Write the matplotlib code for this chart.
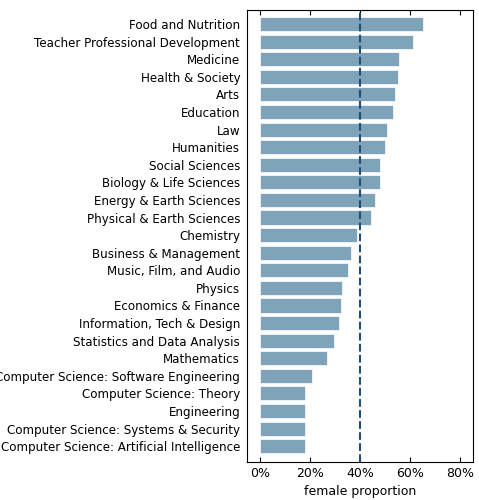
import matplotlib
matplotlib.use("Agg")
import matplotlib.pyplot as plt
from matplotlib.ticker import PercentFormatter

fields = [
    "Food and Nutrition", "Teacher Professional Development", "Medicine",
    "Health & Society", "Arts", "Education", "Law", "Humanities",
    "Social Sciences", "Biology & Life Sciences", "Energy & Earth Sciences",
    "Physical & Earth Sciences", "Chemistry", "Business & Management",
    "Music, Film, and Audio", "Physics", "Economics & Finance",
    "Information, Tech & Design", "Statistics and Data Analysis", "Mathematics",
    "Computer Science: Software Engineering", "Computer Science: Theory",
    "Engineering", "Computer Science: Systems & Security",
    "Computer Science: Artificial Intelligence",
]
female_share = [
    0.65, 0.61, 0.557, 0.553, 0.54, 0.53, 0.506, 0.50, 0.48, 0.48, 0.46,
    0.443, 0.39, 0.365, 0.353, 0.33, 0.325, 0.318, 0.298, 0.27, 0.21,
    0.18, 0.18, 0.18, 0.18,
]

fig = plt.figure(figsize=(4.79, 5.0), dpi=100)
ax = fig.add_axes([0.516, 0.076, 0.471, 0.904])

ypos = list(range(len(fields)))[::-1]
ax.barh(ypos, female_share, height=0.8, color="#7fa3b8", edgecolor="white", linewidth=0.5)
ax.axvline(0.40, color="#1f4e79", linestyle="--", linewidth=1.5)

ax.set_yticks(ypos)
ax.set_yticklabels(fields, fontsize=8.6)
ax.set_ylim(-0.9, len(fields) - 0.2)
ax.set_xlim(-0.05, 0.85)
ax.set_xticks([0, 0.2, 0.4, 0.6, 0.8])
ax.xaxis.set_major_formatter(PercentFormatter(1.0, decimals=0))
ax.tick_params(axis="x", labelsize=9, direction="in", top=True)
ax.tick_params(axis="y", length=0, pad=5)
ax.set_xlabel("female proportion", fontsize=9)

fig.savefig("out.png", dpi=100)
